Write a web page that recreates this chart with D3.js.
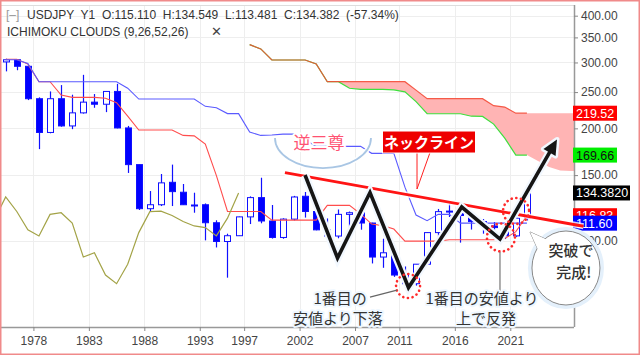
<!DOCTYPE html>
<html>
<head>
<meta charset="utf-8">
<script src="https://cdn.jsdelivr.net/npm/d3@7"></script>
<style>
  body { margin: 0; background: #fff; }
  svg { display: block; font-family: "Liberation Sans", Arial, sans-serif; }
  .jp { font-family: "Noto Sans CJK JP", sans-serif; }
</style>
</head>
<body>
<svg id="chart" width="640" height="355"></svg>
<script>
// ---- data (yearly USDJPY candles) ----
var years  = [1975,1976,1977,1978,1979,1980,1981,1982,1983,1984,1985,1986,1987,1988,1989,1990,
              1991,1992,1993,1994,1995,1996,1997,1998,1999,2000,2001,2002,2003,2004,2005,2006,
              2007,2008,2009,2010,2011,2012,2013,2014,2015,2016,2017,2018,2019,2020,2021,2022];
var opens  = [301,305,293,240,195,240,203,220,235,232,251,200.5,160,122,125,143.5,
              135,124.6,125,111.9,99.7,103.3,116,130.6,113.1,102.2,114.4,131.7,119.9,107.1,103.1,117.8,
              119,111.7,90.6,93,81.1,76.9,86.7,105.3,119.7,120.2,117,112.7,109.7,108.6,103.2,115.11];
var highs  = [307,306,294,242,251,261,246,278,247,251,263,203,160,136,151,160,
              142,134.6,126,113.6,104.6,116.2,131.6,147.6,124.8,115,132,135.2,121.9,114.9,121.4,119.9,
              124.1,111.9,101.4,94.9,85.5,86.8,105.4,121.8,125.9,121.7,118.6,114.5,112.4,112.2,116.3,134.549];
var lows   = [284,286,238,176,194,202,199,219,227,221,200,152,121,120,124,124,
              125,119,100.4,96.1,79.8,103.3,111,111.5,101.5,101.4,113.5,115.5,106.8,101.8,101.7,108.7,
              107.2,87.1,84.8,80.2,75.6,76,86.6,100.8,115.9,99,107.3,104.6,104.5,101.2,102.6,113.481];
var closes = [305,293,240,195,240,203,220,235,232,251,200.5,160,122,125,143,135.5,
              125,124.8,111.9,99.7,103.3,116,130.6,113.1,102.2,114.4,131.1,119.9,107.1,103.1,117.8,119,
              111.7,90.6,93,81.1,76.9,86.7,105.3,119.8,120.2,117,112.7,109.7,108.6,103.2,115.1,134.382];

// Ichimoku lines, one value per year above
var tenkan = [306,306,297,266.5,266.5,245.5,242,242,242,240.6,234.2,215.5,198,198,198,198,
              191.5,191,181.5,149.5,119.9,119.9,119.9,119.9,113.7,113.7,113.7,113.7,113.7,124.5,124.5,124.5,
              118.2,111,109.9,107.6,99.9,99.9,99.9,99.9,100.8,100.8,100.8,100.8,100.8,101.5,105.9,116.83];
var kijun  = [305,305,298,266.5,266.5,266.5,266.5,266.5,266.5,266.5,266.5,256,239.5,239.5,239.5,239.5,
              239.5,239.5,229,227,219,219,195.5,191.5,192,193,193,186.5,179,179,179,179,
              179,171.5,171.5,171.5,139.3,117.3,113.3,117.8,117.8,111.6,111.6,111.6,111.6,111.6,111.6,111.6];
// leading spans (cloud), shifted forward
var spanYears = [1997,1998,1999,2000,2001,2002,2003,2004,2005,2006,2007,2008,2009,2010,2011,2012,
                 2013,2014,2015,2016,2017,2018,2019,2020,2021,2022,2023,2024,2025,2026,2027];
var spanA = [334.7,326,304.6,304.6,304.6,304.6,297.2,266.5,266.5,256,254.3,254.3,254.3,253.5,250.4,235.7,
             218.8,218.8,218.8,218.8,215.5,215.2,205.3,188.3,169.66,169.66,163.6,157.6,154.3,153.9,153.9];
var spanB = [334.7,326,304.6,304.6,304.6,304.6,297.2,266.5,266.5,266.5,266.5,266.5,266.5,266.5,266.5,253,
             240,240,240,240,240,240,230,228,219.52,219.52,219.52,219.52,219.52,219.52,219.52];
var chikouLag = 26;
var lastBarYear = 2022;

var xTicks = [1978,1983,1988,1993,1997,2002,2007,2011,2016,2021];
var yTicks = [100,150,200,250,300,350,400];

var markerValues = [219.52,169.66,134.382,116.83,111.60];
var markerTexts  = ["219.52","169.66","134.3820","116.83","111.60"];

var headerText = "USDJPY  Y1  O:115.110  H:134.549  L:113.481  C:134.382  (-57.34%)";
var studyText  = "ICHIMOKU CLOUDS (9,26,52,26)";

// annotations, in (year, price)
var neckline = [[2000.68,152.2],[2027.6,109.5]];
var wPattern = [[2002.49,150.1],[2005.42,90.05],[2008.35,134.75],[2011.82,75.1],
                [2016.62,123.25],[2020.07,101.2],[2025.21,186.7]];
var dotCircles = [[2011.78,75.8],[2020.16,102.2],[2021.52,120.3]];

// ---- layout ----
var svg = d3.select("#chart");
var plotRight = 574, plotTop = 5, plotBottom = 327;

var x = d3.scaleLinear().domain([1975, 2027]).range([0.15, 0.15 + 52 * 11.09]);
var y = d3.scaleLog().domain([100, 400]).range([241, 15.7]);
function cx(yr) { return x(yr + 0.5); }

svg.append("rect").attr("width", 640).attr("height", 355).attr("fill", "#fff");

svg.append("defs").append("clipPath").attr("id", "plotclip")
  .append("rect").attr("x", 0).attr("y", plotTop)
  .attr("width", plotRight).attr("height", plotBottom - plotTop);

// grid
var grid = svg.append("g").attr("stroke", "#eeeeee").attr("stroke-width", 1);
grid.selectAll(".vg").data(xTicks).join("line")
  .attr("x1", function(d) { return Math.round(x(d)) + 0.5; })
  .attr("x2", function(d) { return Math.round(x(d)) + 0.5; })
  .attr("y1", plotTop).attr("y2", plotBottom);
grid.selectAll(".hg").data(yTicks).join("line")
  .attr("x1", 0).attr("x2", plotRight)
  .attr("y1", function(d) { return Math.round(y(d)) + 0.5; })
  .attr("y2", function(d) { return Math.round(y(d)) + 0.5; });
svg.append("line").attr("x1", 0).attr("x2", plotRight).attr("y1", plotTop + 0.5).attr("y2", plotTop + 0.5)
  .attr("stroke", "#dddddd");

var g = svg.append("g").attr("clip-path", "url(#plotclip)");

// cloud
var spans = spanYears.map(function(yr, i) { return { year: yr, a: spanA[i], b: spanB[i] }; });
g.append("path")
  .attr("d", d3.area().x(function(d) { return cx(d.year); })
    .y0(function(d) { return y(d.a); }).y1(function(d) { return y(d.b); })(spans))
  .attr("fill", "#ffb4b4");

var shown = spans.filter(function(d) { return d.year <= lastBarYear; });
g.append("path")
  .attr("d", d3.line().x(function(d) { return cx(d.year); }).y(function(d) { return y(d.a); })(shown))
  .attr("fill", "none").attr("stroke", "#3ee03e").attr("stroke-width", 1.2);
g.append("path")
  .attr("d", d3.line().x(function(d) { return cx(d.year); }).y(function(d) { return y(d.b); })(shown))
  .attr("fill", "none").attr("stroke", "#f44a36").attr("stroke-width", 1.2).attr("stroke-opacity", 0.9);

// candles
var bars = years.map(function(yr, i) {
  return { year: yr, o: opens[i], h: highs[i], l: lows[i], c: closes[i] };
});
var candle = g.selectAll(".candle").data(bars).join("g");
candle.append("line")
  .attr("x1", function(d) { return Math.round(cx(d.year)) + 0.5; })
  .attr("x2", function(d) { return Math.round(cx(d.year)) + 0.5; })
  .attr("y1", function(d) { return y(d.h); })
  .attr("y2", function(d) { return y(d.l); })
  .attr("stroke", "#1010ff").attr("stroke-width", 1.2);
candle.append("rect")
  .attr("x", function(d) { return Math.round(cx(d.year)) - 2.5; })
  .attr("width", 6)
  .attr("y", function(d) { return y(Math.max(d.o, d.c)); })
  .attr("height", function(d) { return Math.max(1, y(Math.min(d.o, d.c)) - y(Math.max(d.o, d.c))); })
  .attr("fill", function(d) { return d.c < d.o ? "#0000ff" : "#ffffff"; })
  .attr("stroke", "#1010ff").attr("stroke-width", 1);

// tenkan, kijun, chikou
var lineGen = d3.line().x(function(d) { return cx(d[0]); }).y(function(d) { return y(d[1]); });
g.append("path").attr("d", lineGen(years.map(function(yr, i) { return [yr, tenkan[i]]; })))
  .attr("fill", "none").attr("stroke", "#ff4d4d").attr("stroke-width", 1.1);
g.append("path").attr("d", lineGen(years.map(function(yr, i) { return [yr, kijun[i]]; })))
  .attr("fill", "none").attr("stroke", "#5a5aff").attr("stroke-width", 1.1);
var chikou = years.map(function(yr, i) { return [yr - chikouLag, closes[i]]; })
  .filter(function(d) { return d[0] >= 1974; });
g.append("path").attr("d", lineGen(chikou))
  .attr("fill", "none").attr("stroke", "#a3a347").attr("stroke-width", 1.2);

// axes
svg.append("line").attr("x1", plotRight + 0.5).attr("x2", plotRight + 0.5)
  .attr("y1", plotTop).attr("y2", plotBottom).attr("stroke", "#999").attr("stroke-width", 1.5);
svg.append("line").attr("x1", 0).attr("x2", plotRight)
  .attr("y1", plotBottom + 0.5).attr("y2", plotBottom + 0.5).attr("stroke", "#999").attr("stroke-width", 1.5);

var yAxis = svg.append("g").attr("transform", "translate(" + plotRight + ",0)")
  .call(d3.axisRight(y).tickValues(yTicks).tickFormat(d3.format(".2f")).tickSize(4).tickPadding(3));
yAxis.select(".domain").remove();
yAxis.selectAll("text").attr("font-size", 12).attr("fill", "#444")
  .attr("font-family", "'Liberation Sans', Arial, sans-serif");
yAxis.selectAll("line").attr("stroke", "#888");

var xAxis = svg.append("g").attr("transform", "translate(0," + plotBottom + ")")
  .call(d3.axisBottom(x).tickValues(xTicks).tickFormat(d3.format("d")).tickSize(4).tickPadding(5));
xAxis.select(".domain").remove();
xAxis.selectAll("text").attr("font-size", 12).attr("fill", "#444")
  .attr("font-family", "'Liberation Sans', Arial, sans-serif");
xAxis.selectAll("line").attr("stroke", "#888");

// last value markers
var markerStyles = [
  { bg: "#ff0000", fg: "#ffffff", w: 44 },
  { bg: "#00ee00", fg: "#111111", w: 44 },
  { bg: "#000000", fg: "#ffffff", w: 57 },
  { bg: "#ff0000", fg: "#ffffff", w: 44 },
  { bg: "#0000ff", fg: "#ffffff", w: 44 }
];
var markers = svg.selectAll(".marker").data(markerValues).join("g")
  .attr("transform", function(d) { return "translate(" + (plotRight - 1) + "," + y(d) + ")"; });
markers.append("rect").attr("x", 0).attr("y", -7.5).attr("height", 15)
  .attr("width", function(d, i) { return markerStyles[i].w; })
  .attr("fill", function(d, i) { return markerStyles[i].bg; });
markers.append("text").attr("x", 3).attr("y", 0).attr("dy", "0.36em")
  .attr("font-size", 12.5)
  .attr("fill", function(d, i) { return markerStyles[i].fg; })
  .text(function(d, i) { return markerTexts[i]; });

// header
svg.append("text").attr("x", 6).attr("y", 19).attr("font-size", 12).attr("fill", "#999").text("[–]");
svg.append("text").attr("x", 27).attr("y", 19).attr("font-size", 12).attr("fill", "#333")
  .style("white-space", "pre").text(headerText);
svg.append("text").attr("x", 7).attr("y", 36).attr("font-size", 12).attr("fill", "#333").text(studyText);
svg.append("text").attr("x", 211).attr("y", 36).attr("font-size", 13).attr("fill", "#444").text("✕");

// ---- annotations ----
var ann = svg.append("g");
function px(p) { return [x(p[0]), y(p[1])]; }
function halo(sel, w, col) {
  return sel.attr("stroke", col || "#ffffff").attr("stroke-width", w)
    .attr("stroke-linejoin", "round").attr("paint-order", "stroke");
}

// 逆三尊 bowl + label
var bowl = px([2004.11, 188.4]);
var bowlPath = "M" + (bowl[0] - 48) + "," + bowl[1] +
  " A48,30 0 0,0 " + (bowl[0] + 48) + "," + bowl[1];
ann.append("path").attr("d", bowlPath).attr("fill", "none")
  .attr("stroke", "#ffffff").attr("stroke-width", 5).attr("stroke-opacity", 0.9);
ann.append("path").attr("d", bowlPath).attr("fill", "none")
  .attr("stroke", "#a9c6e4").attr("stroke-width", 1.8);
var lbl = px([2003.75, 182.7]);
halo(ann.append("text").attr("class", "jp").attr("x", lbl[0]).attr("y", lbl[1]).attr("dy", "0.35em")
  .attr("text-anchor", "middle").attr("font-size", 17).attr("fill", "#ff5272").text("逆三尊"), 4);

// neckline
var nl = neckline.map(px);
ann.append("line").attr("x1", nl[0][0]).attr("y1", nl[0][1]).attr("x2", nl[1][0]).attr("y2", nl[1][1])
  .attr("stroke", "#ffffff").attr("stroke-width", 6).attr("stroke-opacity", 0.8);
ann.append("line").attr("x1", nl[0][0]).attr("y1", nl[0][1]).attr("x2", nl[1][0]).attr("y2", nl[1][1])
  .attr("stroke", "#ff1414").attr("stroke-width", 2.8);

// W pattern with arrow
var wp = wPattern.map(px);
var last = wp[wp.length - 1], prev = wp[wp.length - 2];
var ang = Math.atan2(last[1] - prev[1], last[0] - prev[0]);
var headLen = 15, headW = 7;
var shaft = wp.slice(0, -1).concat([[last[0] - Math.cos(ang) * headLen * 0.8, last[1] - Math.sin(ang) * headLen * 0.8]]);
var head = [
  last,
  [last[0] - Math.cos(ang) * headLen + Math.sin(ang) * headW, last[1] - Math.sin(ang) * headLen - Math.cos(ang) * headW],
  [last[0] - Math.cos(ang) * headLen - Math.sin(ang) * headW, last[1] - Math.sin(ang) * headLen + Math.cos(ang) * headW]
];
var straight = d3.line();
ann.append("path").attr("d", straight(shaft)).attr("fill", "none")
  .attr("stroke", "#f2f8ff").attr("stroke-width", 8).attr("stroke-linejoin", "miter");
ann.append("path").attr("d", straight(head) + "Z").attr("fill", "#f2f8ff")
  .attr("stroke", "#f2f8ff").attr("stroke-width", 5).attr("stroke-linejoin", "round");
ann.append("path").attr("d", straight(shaft)).attr("fill", "none")
  .attr("stroke", "#151515").attr("stroke-width", 3.6).attr("stroke-linejoin", "miter");
ann.append("path").attr("d", straight(head) + "Z").attr("fill", "#151515");

// dotted circles
var circleR = [12, 14, 13];
ann.selectAll(".dc").data(dotCircles).join("circle")
  .attr("cx", function(d) { return px(d)[0]; })
  .attr("cy", function(d) { return px(d)[1]; })
  .attr("r", function(d, i) { return circleR[i]; })
  .attr("fill", "none").attr("stroke", "#ff2a2a").attr("stroke-width", 2.6)
  .attr("stroke-linecap", "round").attr("stroke-dasharray", "0.1,4.6");

// ネックライン callout
var nb = px([2013.67, 183.3]);
var tip = px([2012.59, 137.7]);
ann.append("path").attr("d", "M" + (nb[0] - 12) + "," + (nb[1] + 10) + "L" + tip[0] + "," + tip[1] + "L" + (nb[0] + 1) + "," + (nb[1] + 10))
  .attr("fill", "#ffffff").attr("stroke", "#ff2020").attr("stroke-width", 1);
ann.append("rect").attr("x", nb[0] - 47).attr("y", nb[1] - 12).attr("width", 94).attr("height", 23)
  .attr("fill", "#ffffff");
ann.append("rect").attr("x", nb[0] - 46).attr("y", nb[1] - 11).attr("width", 92).attr("height", 21)
  .attr("fill", "#ee0000");
ann.append("text").attr("class", "jp").attr("x", nb[0]).attr("y", nb[1]).attr("dy", "0.36em")
  .attr("text-anchor", "middle").attr("font-size", 15).attr("font-weight", "bold")
  .attr("fill", "#ffffff").text("ネックライン");

// leader lines
var l1a = px([2008.35, 70.8]), l1b = px([2010.78, 73.95]);
ann.append("line").attr("x1", l1a[0]).attr("y1", l1a[1]).attr("x2", l1b[0]).attr("y2", l1b[1])
  .attr("stroke", "#666").attr("stroke-width", 1.2);
var l2a = px([2020.07, 93.4]), l2b = px([2020.07, 73.5]);
ann.append("line").attr("x1", l2a[0]).attr("y1", l2a[1]).attr("x2", l2b[0]).attr("y2", l2b[1])
  .attr("stroke", "#777").attr("stroke-width", 1.2);

// captions
var captions = [
  { t: "1番目の", at: [2005.65, 69.97] },
  { t: "安値より下落", at: [2005.46, 62.2] },
  { t: "1番目の安値より", at: [2018.45, 69.97] },
  { t: "上で反発", at: [2018.81, 62.2] }
];
captions.forEach(function(c) {
  var p = px(c.at);
  halo(ann.append("text").attr("class", "jp").attr("x", p[0]).attr("y", p[1]).attr("dy", "0.36em")
    .attr("text-anchor", "middle").attr("font-size", 15).attr("fill", "#333").text(c.t), 4, "#eef7ff");
});

// speech bubble
var bc = px([2026.02, 84.7]);
var bt = px([2022.78, 105.7]);
var tail = "M" + (bc[0] - 26) + "," + (bc[1] - 14) + "L" + bt[0] + "," + bt[1] + "L" + (bc[0] - 16) + "," + (bc[1] - 27) + "Z";
ann.append("ellipse").attr("cx", bc[0]).attr("cy", bc[1]).attr("rx", 36).attr("ry", 39)
  .attr("fill", "none").attr("stroke", "#e4f0fb").attr("stroke-width", 4);
ann.append("path").attr("d", tail).attr("fill", "#ffffff").attr("stroke", "#888").attr("stroke-width", 1);
ann.append("ellipse").attr("cx", bc[0]).attr("cy", bc[1]).attr("rx", 34).attr("ry", 37)
  .attr("fill", "#ffffff").attr("stroke", "#888").attr("stroke-width", 1);
ann.append("path").attr("d", tail).attr("fill", "#ffffff");
var b1 = px([2026.47, 94.0]), b2 = px([2026.74, 82.1]);
ann.append("text").attr("class", "jp").attr("x", b1[0]).attr("y", b1[1]).attr("dy", "0.36em")
  .attr("text-anchor", "middle").attr("font-size", 15).attr("font-weight", 500).attr("fill", "#333").text("突破で");
ann.append("text").attr("class", "jp").attr("x", b2[0]).attr("y", b2[1]).attr("dy", "0.36em")
  .attr("text-anchor", "middle").attr("font-size", 15).attr("font-weight", 500).attr("fill", "#333").text("完成!");

// frame
svg.append("rect").attr("x", 0.75).attr("y", 0.75).attr("width", 638.5).attr("height", 353.5)
  .attr("fill", "none").attr("stroke", "#f08a8a").attr("stroke-width", 1.5);
</script>
</body>
</html>
